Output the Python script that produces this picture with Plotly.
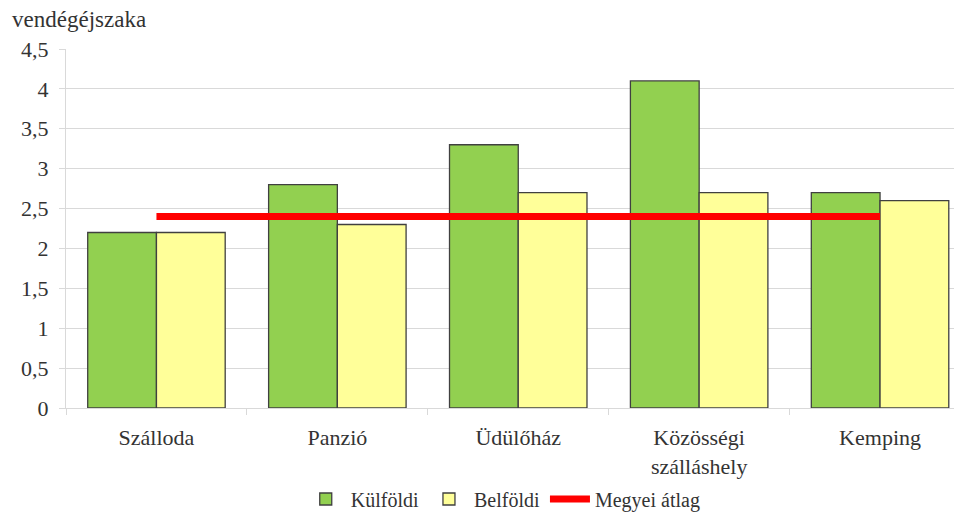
import plotly.graph_objects as go

categories = ["Szálloda", "Panzió", "Üdülőház", "Közösségi<br>szálláshely", "Kemping"]
kulfoldi = [2.2, 2.8, 3.3, 4.1, 2.7]
belfoldi = [2.2, 2.3, 2.7, 2.7, 2.6]
megyei_atlag = [2.4, 2.4, 2.4, 2.4, 2.4]
y_ticks = [0, 0.5, 1, 1.5, 2, 2.5, 3, 3.5, 4, 4.5]

FONT = "Liberation Serif"
TXT = "#333333"
FS = 22

# the page body has an 8px margin, so the figure is 954x505 at offset (8, 8)
PW = 896.5
PH = 359

fig = go.Figure()
fig.add_trace(go.Bar(name="Külföldi", x=categories, y=kulfoldi,
                     marker=dict(color="#92d050", line=dict(color="#404040", width=1.3))))
fig.add_trace(go.Bar(name="Belföldi", x=categories, y=belfoldi,
                     marker=dict(color="#ffff99", line=dict(color="#404040", width=1.3))))
fig.add_trace(go.Scatter(name="Megyei átlag", x=categories, y=megyei_atlag, mode="lines",
                         line=dict(color="#ff0000", width=7)))

fig.update_layout(
    width=954, height=505,
    margin=dict(l=57.5, r=0, t=41, b=105, autoexpand=False),
    paper_bgcolor="white", plot_bgcolor="white",
    barmode="group", bargap=0.24, bargroupgap=0,
    separators=", ",
    font=dict(family=FONT, size=FS, color=TXT),
    showlegend=True,
    legend=dict(orientation="h", x=0.488, xanchor="center", y=-91 / PH, yanchor="middle",
                font=dict(family=FONT, size=20, color=TXT), traceorder="normal",
                itemwidth=40),
)
fig.add_annotation(text="vendégéjszaka", xref="paper", yref="paper",
                   x=-56 / PW, y=1 + 29 / PH, xanchor="left", yanchor="middle",
                   showarrow=False, font=dict(family=FONT, size=23, color=TXT))

fig.update_xaxes(range=[-0.5, 4.453], showgrid=False, showline=True, linecolor="#d9d9d9",
                 linewidth=1, ticks="outside", tickson="boundaries", ticklen=6,
                 tickcolor="#d9d9d9", ticklabelstandoff=10, automargin=False,
                 tickfont=dict(family=FONT, size=FS, color=TXT))
fig.update_yaxes(range=[0, 4.5], tickvals=y_ticks, showgrid=True, gridcolor="#d9d9d9",
                 gridwidth=1, showline=True, linecolor="#d9d9d9", ticks="outside",
                 ticklen=6, tickcolor="#d9d9d9", zeroline=False, automargin=False,
                 ticklabelstandoff=6,
                 tickfont=dict(family=FONT, size=FS, color=TXT))

fig.write_html("out.html")
